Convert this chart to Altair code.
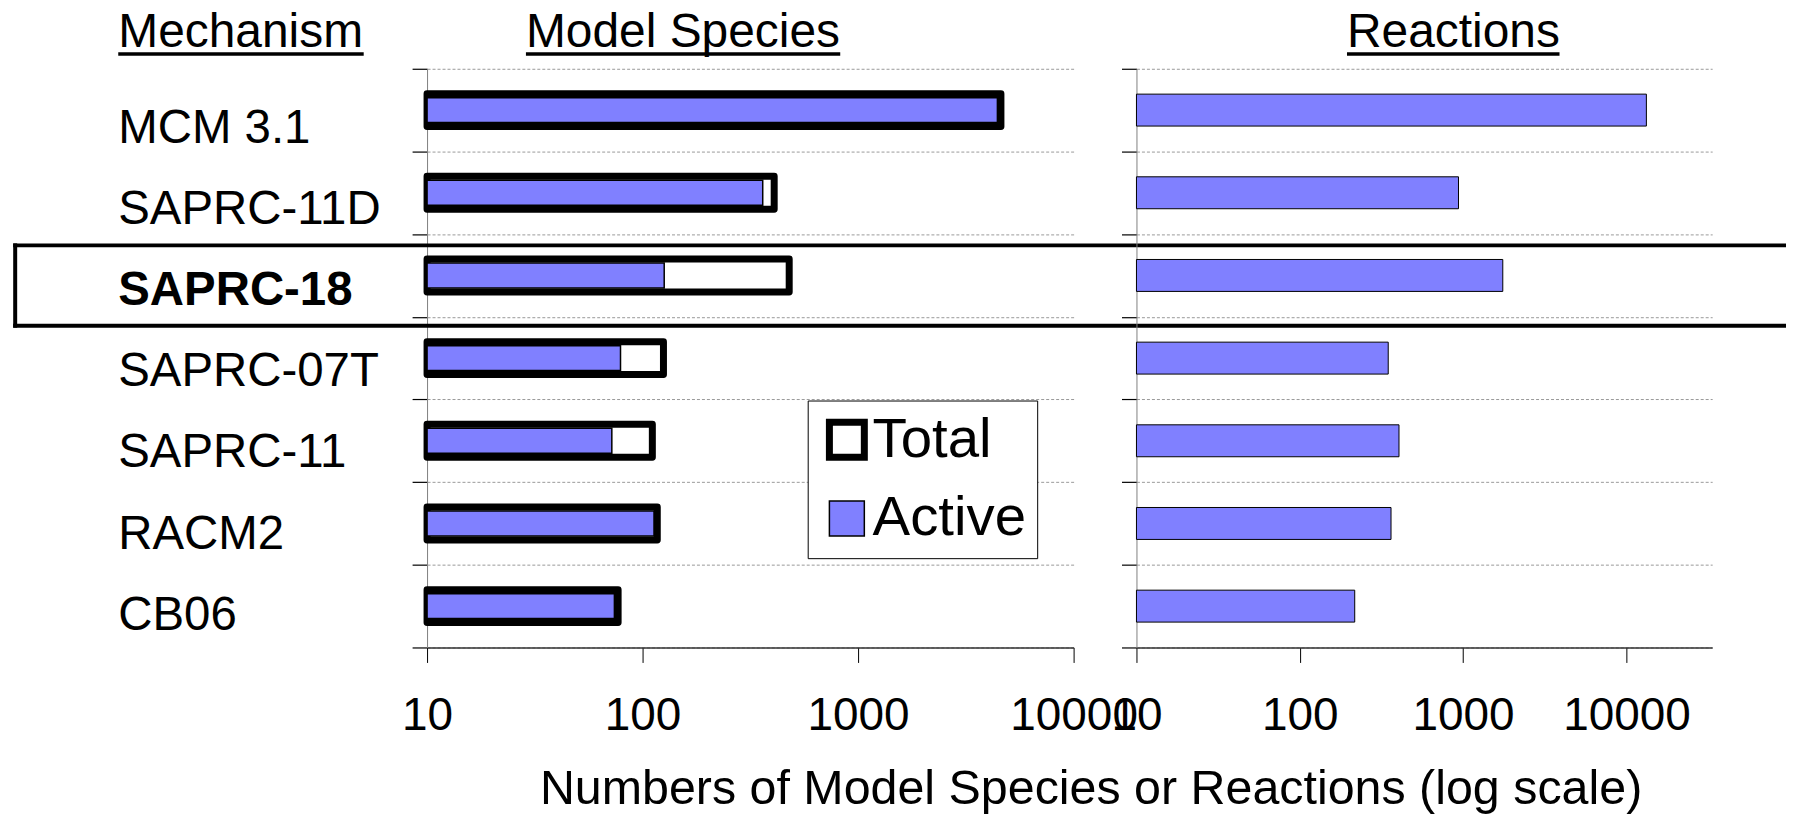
import altair as alt
import pandas as pd

# ---- data ----
mechanisms = ["MCM 3.1", "SAPRC-11D", "SAPRC-18", "SAPRC-07T", "SAPRC-11", "RACM2", "CB06"]
species_total = [4600, 408, 479, 125, 111, 117, 77]
species_active = [4430, 361, 126, 79, 72, 113, 74]
reactions = [13250, 937, 1750, 348, 405, 362, 217]
series_names = ["Total", "Active"]
species_ticks = [10, 100, 1000, 10000]
reaction_ticks = [10, 100, 1000, 10000]
highlight = "SAPRC-18"
header_mech = "Mechanism"
header_species = "Model Species"
header_reactions = "Reactions"
x_title = "Numbers of Model Species or Reactions (log scale)"

FONT = "Liberation Sans"
BLUE = "#8080FF"
W1, W2, H = 648, 577, 580

total_df = pd.DataFrame({"Mechanism": mechanisms, "series": "Total", "value": species_total})
active_df = pd.DataFrame({"Mechanism": mechanisms, "series": "Active", "value": species_active})
reactions_df = pd.DataFrame({"Mechanism": mechanisms, "value": reactions})
labels_df = pd.DataFrame({"Mechanism": mechanisms})

y_scale = alt.Scale(domain=mechanisms, paddingInner=0, paddingOuter=0)
# the category labels sit on slightly tighter spacing than the rows (as in the reference)
label_scale = alt.Scale(domain=mechanisms, range=[33.75, 602.85], paddingInner=0, paddingOuter=0)

grid_props = dict(tickBand="extent", grid=True, gridColor="#9a9a9a", gridDash=[3, 2],
                  gridWidth=1, domainColor="#808080", domainWidth=1,
                  tickColor="black", tickSize=15, tickWidth=1.2)

y_left = alt.Y("Mechanism:N", sort=mechanisms, scale=y_scale,
               axis=alt.Axis(title=None, orient="left", labels=False, **grid_props))
y_plain = alt.Y("Mechanism:N", sort=mechanisms, scale=y_scale, axis=None)

x_axis_common = dict(format="d", grid=False, tickSize=15, tickColor="black", tickWidth=1,
                     domainColor="#333333", domainWidth=1.5, labelFont=FONT, labelFontSize=46,
                     labelColor="black", labelBaseline="alphabetic", labelPadding=67,
                     labelFlush=False, labelOverlap=False)

x_left = alt.X("value:Q", stack=None,
               scale=alt.Scale(type="log", domain=[10, 10000], nice=False),
               axis=alt.Axis(values=species_ticks, title=x_title, titleFont=FONT,
                             titleFontSize=48.5, titleFontWeight="normal", titleColor="black",
                             titleX=665, titleY=156, titleAlign="center",
                             titleBaseline="alphabetic", **x_axis_common))

legend = alt.Legend(title=None, orient="none", legendX=381.5, legendY=332.5,
                    direction="vertical", labelFont=FONT, labelFontSize=56.5,
                    labelColor="black", labelOffset=alt.expr("-2.5"), symbolType="square",
                    symbolSize=1225, strokeColor="black",
                    fillColor="white", padding=11, rowPadding=19, labelLimit=1000)

fill_enc = alt.Fill("series:N", sort=series_names,
                    scale=alt.Scale(domain=series_names, range=["white", BLUE]), legend=legend)
stroke_enc = alt.Stroke("series:N", sort=series_names,
                        scale=alt.Scale(domain=series_names, range=["black", "black"]), legend=legend)
sw_enc = alt.StrokeWidth("series:N", sort=series_names,
                         scale=alt.Scale(type="point", padding=0, domain=series_names, range=[7, 1.5]),
                         legend=legend)

total_bars = alt.Chart(total_df).mark_bar(strokeJoin="round", size=33).encode(
    x=x_left, y=y_left, fill=fill_enc, stroke=stroke_enc, strokeWidth=sw_enc)
active_bars = alt.Chart(active_df).mark_bar(size=25).encode(
    x=x_left, y=y_plain, fill=fill_enc, stroke=stroke_enc, strokeWidth=sw_enc)

label_text = dict(font=FONT, fontSize=47.5, align="left", baseline="alphabetic", color="black")
labels_normal = alt.Chart(labels_df).transform_filter(
    alt.datum.Mechanism != highlight
).mark_text(**label_text).encode(
    y=alt.Y("Mechanism:N", sort=mechanisms, scale=label_scale, axis=None),
    x=alt.value(-309.5), text="Mechanism:N")
labels_bold = alt.Chart(labels_df).transform_filter(
    alt.datum.Mechanism == highlight
).mark_text(fontWeight="bold", **label_text).encode(
    y=alt.Y("Mechanism:N", sort=mechanisms, scale=label_scale, axis=None),
    x=alt.value(-309.5), text="Mechanism:N")

# highlight frame around the SAPRC-18 row (open on the right, as in the reference)
BOX_L, BOX_R, BOX_T, BOX_B = -412.8, 1362, 177.0, 257.5
box_df = pd.DataFrame({"Mechanism": [highlight]})
box_top = alt.Chart(box_df).mark_rule(color="black", strokeWidth=4).encode(
    x=alt.value(BOX_L - 2), x2=alt.value(BOX_R), y=alt.value(BOX_T))
box_bottom = alt.Chart(box_df).mark_rule(color="black", strokeWidth=4).encode(
    x=alt.value(BOX_L - 2), x2=alt.value(BOX_R), y=alt.value(BOX_B))
box_left = alt.Chart(box_df).mark_rule(color="black", strokeWidth=4).encode(
    x=alt.value(BOX_L), y=alt.value(BOX_T - 2), y2=alt.value(BOX_B + 2))


def header(text, x, y, x_end):
    t = alt.Chart(pd.DataFrame({"label": [text]})).mark_text(
        font=FONT, fontSize=48, align="left", baseline="alphabetic", color="black"
    ).encode(text="label:N", x=alt.value(x), y=alt.value(y))
    u = alt.Chart(pd.DataFrame({"label": [text]})).mark_rule(
        color="black", strokeWidth=3.5
    ).encode(x=alt.value(x), x2=alt.value(x_end), y=alt.value(y + 6.9))
    return [t, u]


left = alt.layer(
    total_bars, active_bars, labels_normal, labels_bold,
    box_top, box_bottom, box_left,
    *header(header_mech, -309.5, -21.6, -63.5),
    *header(header_species, 99.1, -21.6, 414.1),
).resolve_scale(y="independent").properties(width=W1, height=H)

y_right = alt.Y("Mechanism:N", sort=mechanisms, scale=y_scale,
                axis=alt.Axis(title=None, labels=False, **grid_props))
x_right = alt.X("value:Q", stack=None,
                scale=alt.Scale(type="log", domain=[10, 33500], nice=False),
                axis=alt.Axis(values=reaction_ticks, title=None, **x_axis_common))

reaction_bars = alt.Chart(reactions_df).mark_bar(
    fill=BLUE, stroke="black", strokeWidth=1, size=32
).encode(x=x_right, y=y_right)

right = alt.layer(
    reaction_bars,
    *header(header_reactions, 211, -21.6, 424),
).properties(width=W2, height=H)

chart = alt.hconcat(left, right, spacing=63).properties(
    bounds="flush",
    padding={"left": 3, "top": 0, "right": 0, "bottom": 0},
    background="white",
).configure_view(stroke=None)

chart.save("out.html", embed_options={"renderer": "svg", "actions": False})
